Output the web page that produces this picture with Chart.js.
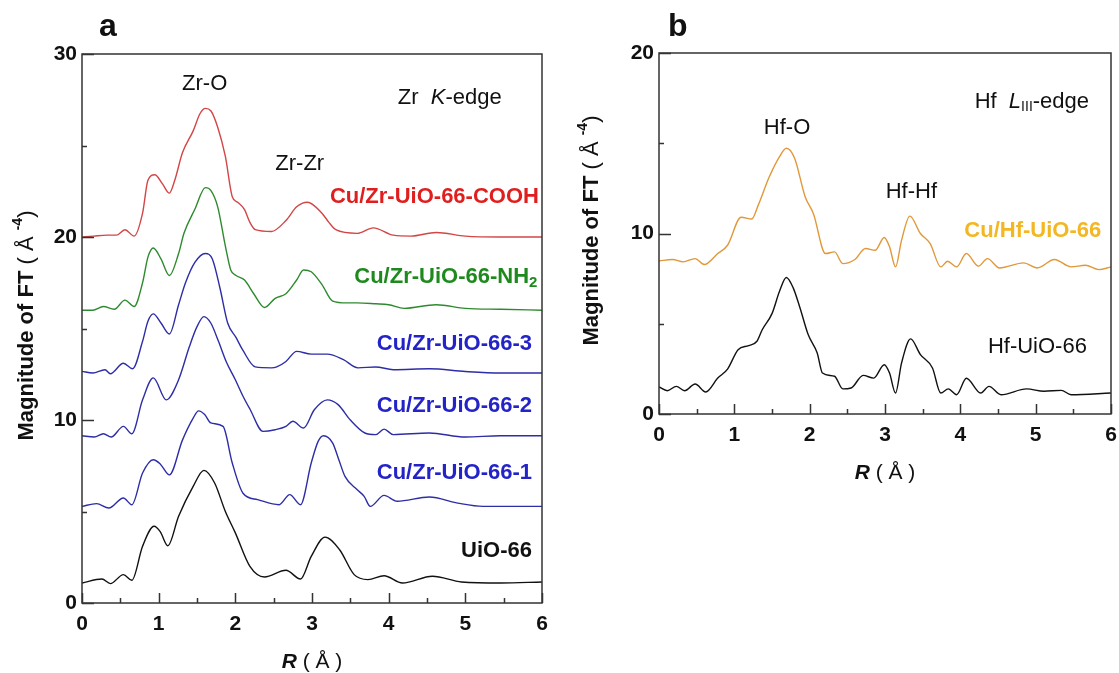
<!DOCTYPE html>
<html>
<head>
<meta charset="utf-8">
<script src="https://cdn.jsdelivr.net/npm/chart.js@4.4.1/dist/chart.umd.min.js"></script>
<style>
  html, body { margin: 0; padding: 0; background: #fff; }
  #wrap { position: relative; width: 1119px; height: 673px; overflow: hidden; }
  canvas { position: absolute; top: 0; }
  #ca { left: 0; }
  #cb { left: 560px; }
</style>
</head>
<body>
<div id="wrap">
  <canvas id="ca" width="560" height="673"></canvas>
  <canvas id="cb" width="559" height="673"></canvas>
</div>
<script>
// ---------------- DATA (panel a: Zr K-edge) ----------------
const xTicksR = [0, 1, 2, 3, 4, 5, 6];
const yTicksA = [0, 10, 20, 30];
const yTicksB = [0, 10, 20];

const coohR = [0, 0.15, 0.33, 0.45, 0.56, 0.68, 0.79, 0.86, 0.95, 1.05, 1.14, 1.21, 1.31, 1.45, 1.54, 1.61, 1.68, 1.77, 1.87, 1.96, 2.03, 2.12, 2.19, 2.26, 2.47, 2.66, 2.80, 2.94, 3.13, 3.22, 3.31, 3.59, 3.80, 4.06, 4.29, 4.62, 5.0, 5.46, 6.0];
const coohV = [20.0, 20.05, 20.1, 20.1, 20.4, 20.05, 21.3, 23.1, 23.4, 22.9, 22.4, 23.1, 24.6, 25.8, 26.75, 27.03, 26.9, 26.0, 24.4, 22.2, 21.9, 21.5, 20.8, 20.4, 20.3, 20.9, 21.65, 21.9, 21.3, 20.8, 20.4, 20.2, 20.5, 20.1, 20.05, 20.25, 20.05, 20.0, 20.0];

const nh2R = [0, 0.14, 0.28, 0.42, 0.56, 0.68, 0.79, 0.86, 0.93, 1.03, 1.14, 1.26, 1.33, 1.47, 1.61, 1.68, 1.77, 1.87, 1.94, 2.01, 2.12, 2.24, 2.38, 2.52, 2.66, 2.80, 2.89, 2.99, 3.13, 3.27, 3.45, 3.59, 3.83, 4.0, 4.20, 4.62, 5.0, 5.46, 6.0];
const nh2V = [16.0, 16.0, 16.2, 16.05, 16.55, 16.2, 17.5, 18.9, 19.4, 18.8, 17.9, 19.1, 20.2, 21.5, 22.7, 22.55, 21.65, 19.5, 18.2, 17.9, 17.65, 16.9, 16.15, 16.65, 16.9, 17.65, 18.2, 18.1, 17.4, 16.5, 16.4, 16.4, 16.35, 16.3, 16.1, 16.3, 16.1, 16.05, 16.0];

const s3R = [0, 0.14, 0.30, 0.37, 0.54, 0.66, 0.79, 0.86, 0.93, 1.03, 1.14, 1.26, 1.35, 1.47, 1.61, 1.70, 1.80, 1.90, 2.01, 2.10, 2.26, 2.47, 2.54, 2.66, 2.80, 2.99, 3.20, 3.41, 3.60, 3.83, 4.06, 4.53, 5.0, 5.46, 6.0];
const s3V = [12.66, 12.57, 12.75, 12.53, 13.1, 12.8, 14.3, 15.4, 15.8, 15.3, 14.7, 16.3, 17.5, 18.6, 19.1, 18.8, 17.2, 15.3, 14.5, 13.8, 12.9, 12.85, 12.9, 13.2, 13.75, 13.6, 13.6, 13.3, 12.85, 12.9, 12.75, 12.8, 12.65, 12.57, 12.57];

const s2R = [0, 0.16, 0.28, 0.38, 0.54, 0.65, 0.79, 0.93, 1.10, 1.26, 1.40, 1.50, 1.59, 1.68, 1.78, 1.88, 2.0, 2.10, 2.19, 2.36, 2.52, 2.66, 2.75, 2.89, 3.03, 3.20, 3.34, 3.50, 3.69, 3.83, 3.94, 4.06, 4.53, 5.0, 5.46, 6.0];
const s2V = [9.14, 9.07, 9.25, 9.07, 9.65, 9.25, 11.1, 12.3, 11.1, 12.2, 14.0, 15.1, 15.65, 15.3, 14.3, 13.2, 12.2, 11.3, 10.6, 9.38, 9.47, 9.65, 9.93, 9.56, 10.56, 11.1, 10.84, 10.0, 9.29, 9.2, 9.5, 9.2, 9.29, 9.07, 9.14, 9.14];

const s1R = [0, 0.19, 0.35, 0.54, 0.65, 0.79, 0.93, 1.02, 1.14, 1.31, 1.45, 1.52, 1.60, 1.68, 1.84, 1.96, 2.10, 2.29, 2.57, 2.71, 2.85, 2.99, 3.08, 3.15, 3.27, 3.35, 3.43, 3.59, 3.68, 3.76, 3.94, 4.11, 4.53, 4.9, 5.23, 6.0];
const s1V = [5.28, 5.43, 5.19, 5.74, 5.37, 7.1, 7.83, 7.6, 7.0, 8.9, 10.1, 10.5, 10.3, 9.84, 9.65, 7.65, 6.0, 5.65, 5.37, 5.92, 5.37, 7.65, 8.83, 9.14, 8.74, 7.83, 6.92, 6.19, 5.83, 5.28, 5.88, 5.56, 5.79, 5.46, 5.28, 5.28];

const uioR = [0, 0.26, 0.37, 0.54, 0.65, 0.79, 0.94, 1.02, 1.12, 1.26, 1.45, 1.59, 1.73, 1.87, 2.0, 2.19, 2.38, 2.66, 2.85, 2.99, 3.17, 3.36, 3.55, 3.73, 3.94, 4.18, 4.57, 4.95, 5.46, 6.0];
const uioV = [1.09, 1.31, 1.06, 1.55, 1.24, 3.1, 4.19, 3.9, 3.13, 4.74, 6.37, 7.25, 6.56, 5.0, 3.83, 2.0, 1.42, 1.79, 1.31, 2.55, 3.6, 2.91, 1.55, 1.28, 1.49, 1.09, 1.46, 1.15, 1.09, 1.15];

// ---------------- DATA (panel b: Hf L3-edge) ----------------
const cuhfR = [0, 0.18, 0.32, 0.48, 0.60, 0.78, 0.91, 1.09, 1.23, 1.32, 1.46, 1.60, 1.69, 1.80, 1.94, 2.05, 2.21, 2.33, 2.44, 2.60, 2.74, 2.87, 2.99, 3.06, 3.14, 3.22, 3.33, 3.47, 3.60, 3.74, 3.83, 3.95, 4.08, 4.24, 4.36, 4.52, 4.84, 5.02, 5.25, 5.47, 5.66, 5.84, 6.0];
const cuhfV = [8.48, 8.56, 8.43, 8.61, 8.28, 8.89, 9.35, 10.9, 10.8, 11.6, 13.1, 14.26, 14.72, 14.17, 12.04, 11.1, 8.89, 8.98, 8.33, 8.56, 9.17, 9.07, 9.78, 9.26, 8.15, 9.63, 10.96, 10.0, 9.44, 8.15, 8.46, 8.15, 8.89, 8.19, 8.61, 8.09, 8.37, 8.09, 8.56, 8.15, 8.24, 8.0, 8.15];

const hfR = [0, 0.11, 0.23, 0.34, 0.48, 0.62, 0.78, 0.91, 1.05, 1.19, 1.30, 1.37, 1.50, 1.60, 1.69, 1.78, 1.87, 1.98, 2.10, 2.17, 2.33, 2.44, 2.55, 2.71, 2.85, 2.99, 3.06, 3.14, 3.22, 3.34, 3.47, 3.63, 3.74, 3.84, 3.95, 4.08, 4.27, 4.38, 4.54, 4.88, 5.11, 5.34, 5.47, 6.0];
const hfV = [1.5, 1.29, 1.53, 1.29, 1.66, 1.22, 1.99, 2.49, 3.56, 3.79, 4.03, 4.67, 5.56, 6.8, 7.56, 7.0, 5.9, 4.4, 3.38, 2.27, 2.09, 1.39, 1.44, 2.14, 1.99, 2.73, 2.27, 1.16, 2.83, 4.16, 3.29, 2.55, 1.16, 1.39, 1.07, 1.98, 1.16, 1.53, 1.07, 1.39, 1.26, 1.31, 1.07, 1.16];

// ---------------- STYLE / LAYOUT ----------------
const FAM = '"Liberation Sans", Arial, Helvetica, sans-serif';
const C_RED = '#e01e1e', L_RED = '#d24646';
const C_GRN = '#1e8a1e', L_GRN = '#2e8a2e';
const C_BLU = '#2323c8', L_BLU = '#2d2da6';
const C_BLK = '#111111';
const C_ORG = '#f4b722', L_ORG = '#e0983a';
const AXC = '#333333';

function f(size, weight, style) { return (style || '') + ' ' + (weight || 'normal') + ' ' + size + 'px ' + FAM; }

function drawRich(ctx, segs, x, y, align) {
  let w = 0;
  segs.forEach(s => { ctx.font = s.f; s.w = ctx.measureText(s.t).width; w += s.w; });
  let sx = align === 'right' ? x - w : (align === 'center' ? x - w / 2 : x);
  segs.forEach(s => {
    ctx.font = s.f; ctx.fillStyle = s.c;
    ctx.fillText(s.t, sx, y + (s.dy || 0));
    sx += s.w;
  });
}

function decor(cfg) {
  return {
    id: 'decor' + cfg.id,
    afterDraw(chart) {
      const ctx = chart.ctx, a = chart.chartArea;
      const xs = chart.scales.x, ys = chart.scales.y;
      ctx.save();
      // frame
      ctx.strokeStyle = AXC; ctx.lineWidth = 1.5;
      ctx.strokeRect(a.left, a.top, a.right - a.left, a.bottom - a.top);
      // inner ticks on x
      ctx.beginPath();
      for (let v = 0; v <= 6.001; v += 0.5) {
        const px = Math.round(xs.getPixelForValue(v)) + 0.5;
        const len = (Math.abs(v - Math.round(v)) < 1e-6) ? 10 : 5;
        ctx.moveTo(px, a.bottom); ctx.lineTo(px, a.bottom - len);
      }
      // inner ticks on y
      for (let v = 0; v <= cfg.yMax + 0.001; v += 5) {
        const py = Math.round(ys.getPixelForValue(v)) + 0.5;
        const len = (v % 10 === 0) ? 12 : 5;
        ctx.moveTo(a.left, py); ctx.lineTo(a.left + len, py);
      }
      ctx.stroke();
      ctx.textBaseline = 'middle';
      // panel letter
      drawRich(ctx, [{ t: cfg.letter, f: f(32, 'bold'), c: C_BLK }], cfg.letterX, cfg.letterY, 'left');
      // annotations at data coordinates
      cfg.notes.forEach(n => {
        drawRich(ctx, n.segs, xs.getPixelForValue(n.x), ys.getPixelForValue(n.y), n.align);
      });
      // axis titles
      const cx = (a.left + a.right) / 2;
      drawRich(ctx, [
        { t: 'R', f: f(21, 'bold', 'italic'), c: C_BLK },
        { t: ' ( Å )', f: f(21, 'normal'), c: C_BLK }
      ], cx, cfg.xTitleY, 'center');
      ctx.translate(cfg.yTitleX, (a.top + a.bottom) / 2 + cfg.yTitleDy);
      ctx.rotate(-Math.PI / 2);
      drawRich(ctx, [
        { t: 'Magnitude of FT', f: f(22, 'bold'), c: C_BLK },
        { t: ' ( Å ', f: f(22, 'normal'), c: C_BLK },
        { t: '-4', f: f(14, 'bold'), c: C_BLK, dy: -9 },
        { t: ')', f: f(22, 'normal'), c: C_BLK }
      ], 0, 0, 'center');
      ctx.restore();
    }
  };
}

function makeChart(canvasId, cfg) {
  const datasets = cfg.series.map(s => ({
    data: s.R.map((r, i) => ({ x: r, y: s.V[i] })),
    borderColor: s.color, borderWidth: 1.4, pointRadius: 0, fill: false,
    cubicInterpolationMode: 'monotone'
  }));
  const tickFont = { family: FAM, size: 21, weight: 'bold' };
  return new Chart(document.getElementById(canvasId), {
    type: 'line',
    data: { datasets },
    options: {
      responsive: false, animation: false, devicePixelRatio: 1,
      layout: { padding: { left: 0, right: cfg.padRight, top: cfg.padTop, bottom: 0 } },
      plugins: { legend: { display: false }, tooltip: { enabled: false } },
      scales: {
        x: {
          type: 'linear', min: 0, max: 6,
          afterBuildTicks: s => { s.ticks = xTicksR.map(v => ({ value: v })); },
          ticks: { font: tickFont, color: C_BLK, padding: 9, maxRotation: 0, autoSkip: false, callback: v => String(v) },
          grid: { display: false, drawTicks: false }, border: { display: false },
          afterFit: s => { s.height = cfg.xH; s.paddingLeft = 0; s.paddingRight = 0; }
        },
        y: {
          type: 'linear', min: 0, max: cfg.yMax,
          afterBuildTicks: s => { s.ticks = cfg.yTicks.map(v => ({ value: v })); },
          ticks: { font: tickFont, color: C_BLK, padding: 5, autoSkip: false, callback: v => String(v) },
          grid: { display: false, drawTicks: false }, border: { display: false },
          afterFit: s => { s.width = cfg.yW; }
        }
      }
    },
    plugins: [decor(cfg)]
  });
}

const B = (t, c) => [{ t, f: f(22, 'bold'), c }];

makeChart('ca', {
  id: 'a', yMax: 30, yTicks: yTicksA,
  padTop: 54, padRight: 18, yW: 82, xH: 70,
  letter: 'a', letterX: 99, letterY: 27,
  xTitleY: 662, yTitleX: 27, yTitleDy: -3,
  series: [
    { R: coohR, V: coohV, color: L_RED },
    { R: nh2R, V: nh2V, color: L_GRN },
    { R: s3R, V: s3V, color: L_BLU },
    { R: s2R, V: s2V, color: L_BLU },
    { R: s1R, V: s1V, color: L_BLU },
    { R: uioR, V: uioV, color: C_BLK }
  ],
  notes: [
    { x: 1.60, y: 28.36, align: 'center', segs: [{ t: 'Zr-O', f: f(22), c: C_BLK }] },
    { x: 2.84, y: 24.0, align: 'center', segs: [{ t: 'Zr-Zr', f: f(22), c: C_BLK }] },
    { x: 4.12, y: 27.6, align: 'left', segs: [
      { t: 'Zr  ', f: f(22), c: C_BLK }, { t: 'K', f: f(22, 'normal', 'italic'), c: C_BLK }, { t: '-edge', f: f(22), c: C_BLK }] },
    { x: 5.96, y: 22.2, align: 'right', segs: B('Cu/Zr-UiO-66-COOH', C_RED) },
    { x: 5.94, y: 17.84, align: 'right', segs: [
      { t: 'Cu/Zr-UiO-66-NH', f: f(22, 'bold'), c: C_GRN }, { t: '2', f: f(15, 'bold'), c: C_GRN, dy: 6 }] },
    { x: 5.87, y: 14.13, align: 'right', segs: B('Cu/Zr-UiO-66-3', C_BLU) },
    { x: 5.87, y: 10.79, align: 'right', segs: B('Cu/Zr-UiO-66-2', C_BLU) },
    { x: 5.87, y: 7.13, align: 'right', segs: B('Cu/Zr-UiO-66-1', C_BLU) },
    { x: 5.87, y: 2.87, align: 'right', segs: B('UiO-66', C_BLK) }
  ]
});

makeChart('cb', {
  id: 'b', yMax: 20, yTicks: yTicksB,
  padTop: 53, padRight: 8, yW: 99, xH: 259,
  letter: 'b', letterX: 108, letterY: 27,
  xTitleY: 473, yTitleX: 32, yTitleDy: -3,
  series: [
    { R: cuhfR, V: cuhfV, color: L_ORG },
    { R: hfR, V: hfV, color: C_BLK }
  ],
  notes: [
    { x: 1.70, y: 15.84, align: 'center', segs: [{ t: 'Hf-O', f: f(22), c: C_BLK }] },
    { x: 3.35, y: 12.3, align: 'center', segs: [{ t: 'Hf-Hf', f: f(22), c: C_BLK }] },
    { x: 4.19, y: 17.29, align: 'left', segs: [
      { t: 'Hf  ', f: f(22), c: C_BLK }, { t: 'L', f: f(22, 'normal', 'italic'), c: C_BLK },
      { t: 'III', f: f(14), c: C_BLK, dy: 5 }, { t: '-edge', f: f(22), c: C_BLK }] },
    { x: 5.87, y: 10.14, align: 'right', segs: B('Cu/Hf-UiO-66', C_ORG) },
    { x: 5.68, y: 3.71, align: 'right', segs: [{ t: 'Hf-UiO-66', f: f(22), c: C_BLK }] }
  ]
});
</script>
</body>
</html>
